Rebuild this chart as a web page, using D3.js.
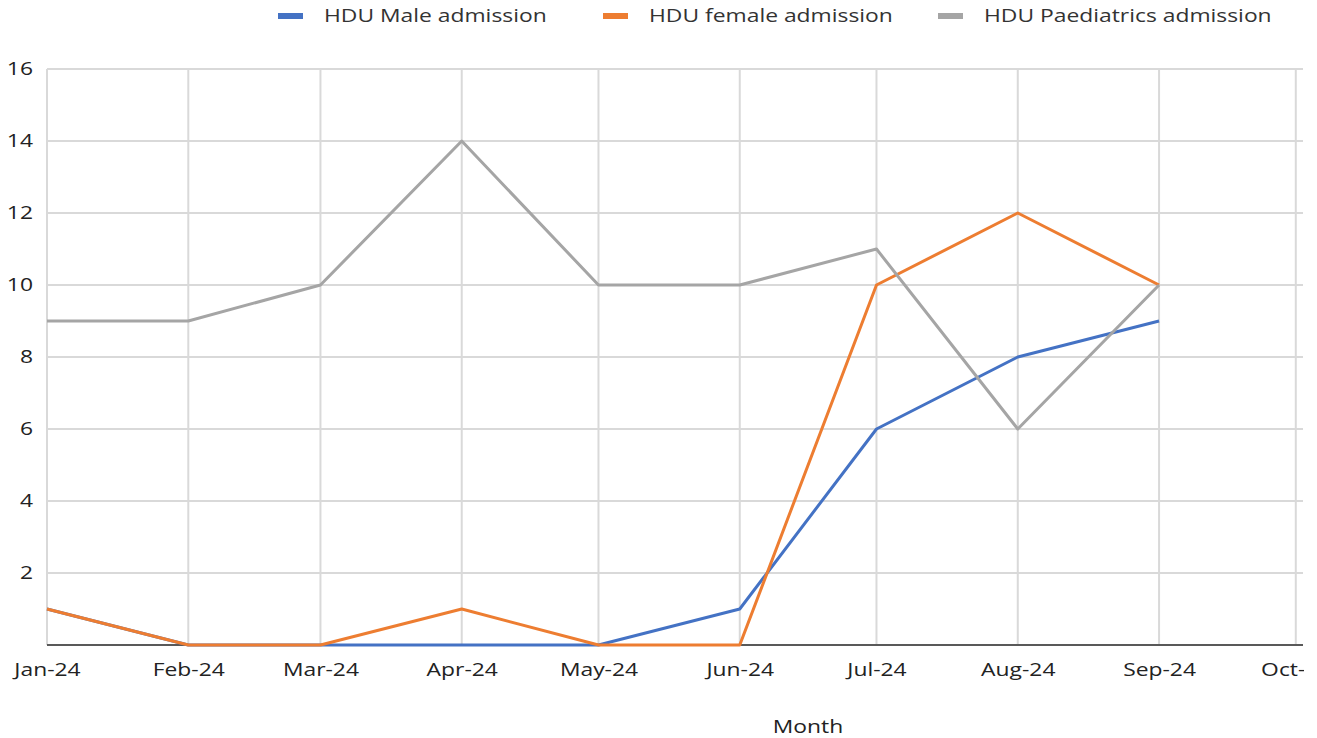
<!DOCTYPE html>
<html>
<head>
<meta charset="utf-8">
<script src="https://cdn.jsdelivr.net/npm/d3@7"></script>
<style>
  body { margin: 0; background: #fff; }
  svg { display: block; font-family: "Open Sans", sans-serif; }
</style>
</head>
<body>
<div id="chart"></div>
<script>
// chart size and plot area
const width = 1317;
const height = 738;
const margin = {left: 47, right: 14, top: 69, bottom: 93};
const stretch = 1.27; // the original picture is widened, so text is too

// data
const months = ["2024-01-01", "2024-02-01", "2024-03-01", "2024-04-01", "2024-05-01",
                "2024-06-01", "2024-07-01", "2024-08-01", "2024-09-01"];
const tickMonths = ["2024-01-01", "2024-02-01", "2024-03-01", "2024-04-01", "2024-05-01",
                    "2024-06-01", "2024-07-01", "2024-08-01", "2024-09-01", "2024-10-01"];
const seriesNames = ["HDU Male admission", "HDU female admission", "HDU Paediatrics admission"];
const maleValues = [1, 0, 0, 0, 0, 1, 6, 8, 9];
const femaleValues = [1, 0, 0, 1, 0, 0, 10, 12, 10];
const paedValues = [9, 9, 10, 14, 10, 10, 11, 6, 10];
const yTicks = [0, 2, 4, 6, 8, 10, 12, 14, 16];
const colors = ["#4472c4", "#ed7d31", "#a5a5a5"];

const parse = d3.utcParse("%Y-%m-%d");
const fmt = d3.utcFormat("%b-%y");

const svg = d3.select("#chart")
  .append("svg")
  .attr("width", width)
  .attr("height", height);

// x scale: time, ends a little after Oct 1
const xScale = d3.scaleUtc()
  .domain([parse("2024-01-01"), new Date(Date.UTC(2024, 9, 2, 14))])
  .range([margin.left, width - margin.right]);

const yScale = d3.scaleLinear()
  .domain([0, 16])
  .range([height - margin.bottom, margin.top]);

// clip so the last label gets cut like the original
svg.append("clipPath").attr("id", "clip")
  .append("rect")
  .attr("x", 0).attr("y", 0)
  .attr("width", 1304).attr("height", height);

// horizontal grid
svg.append("g")
  .selectAll("line")
  .data(yTicks.filter(d => d > 0))
  .join("line")
    .attr("x1", margin.left)
    .attr("x2", width - margin.right)
    .attr("y1", d => yScale(d))
    .attr("y2", d => yScale(d))
    .attr("stroke", "#d9d9d9")
    .attr("stroke-width", 2);

// vertical grid
svg.append("g")
  .selectAll("line")
  .data(tickMonths.map(parse))
  .join("line")
    .attr("x1", d => xScale(d))
    .attr("x2", d => xScale(d))
    .attr("y1", yScale(16))
    .attr("y2", yScale(0))
    .attr("stroke", "#d9d9d9")
    .attr("stroke-width", 2);

// zero baseline
svg.append("line")
  .attr("x1", margin.left)
  .attr("x2", width - margin.right)
  .attr("y1", yScale(0))
  .attr("y2", yScale(0))
  .attr("stroke", "#595959")
  .attr("stroke-width", 2);

// y axis labels
const yAxis = svg.append("g")
  .attr("transform", `translate(${margin.left}, 0)`)
  .call(d3.axisLeft(yScale)
    .tickValues(yTicks.filter(d => d > 0))
    .tickSize(0));
yAxis.select(".domain").remove();
yAxis.selectAll("text")
  .attr("x", 0)
  .attr("transform", `translate(-14, 0) scale(${stretch}, 1)`)
  .attr("font-size", "18px")
  .attr("font-family", "Open Sans, sans-serif")
  .attr("fill", "#222");

// x axis labels
const xAxis = svg.append("g")
  .attr("clip-path", "url(#clip)")
  .attr("transform", `translate(0, ${height - margin.bottom})`)
  .call(d3.axisBottom(xScale)
    .tickValues(tickMonths.map(parse))
    .tickFormat(fmt)
    .tickSize(0)
    .tickPadding(18));
xAxis.select(".domain").remove();
xAxis.selectAll("text")
  .attr("transform", `scale(${stretch}, 1)`)
  .attr("font-size", "18px")
  .attr("font-family", "Open Sans, sans-serif")
  .attr("fill", "#222");

// axis title
svg.append("text")
  .attr("transform", `translate(808, 733) scale(${stretch}, 1)`)
  .attr("text-anchor", "middle")
  .attr("font-size", "18px")
  .attr("fill", "#222")
  .text("Month");

// lines
const line = d3.line()
  .x((d, i) => xScale(parse(months[i])))
  .y(d => yScale(d));

[maleValues, femaleValues, paedValues].forEach((vals, i) => {
  svg.append("path")
    .datum(vals)
    .attr("fill", "none")
    .attr("stroke", colors[i])
    .attr("stroke-width", 3)
    .attr("stroke-linejoin", "round")
    .attr("d", line);
});

// legend
const legendX = [278, 603, 938];
const legend = svg.append("g");
seriesNames.forEach((name, i) => {
  legend.append("rect")
    .attr("x", legendX[i])
    .attr("y", 13)
    .attr("width", 25)
    .attr("height", 6)
    .attr("fill", colors[i]);
  legend.append("text")
    .attr("transform", `translate(${legendX[i] + 46}, 22) scale(${stretch}, 1)`)
    .attr("font-size", "18px")
    .attr("fill", "#333")
    .text(name);
});
</script>
</body>
</html>
